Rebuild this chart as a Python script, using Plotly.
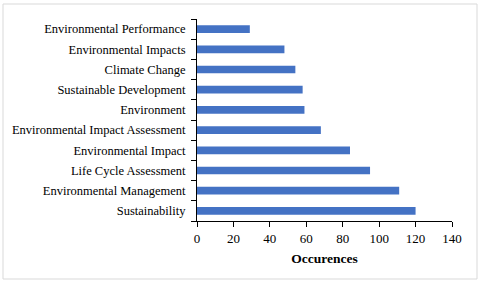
import plotly.graph_objects as go

categories = ["Sustainability", "Environmental Management", "Life Cycle Assessment",
              "Environmental Impact", "Environmental Impact Assessment", "Environment",
              "Sustainable Development", "Climate Change", "Environmental Impacts",
              "Environmental Performance"]
occurrences = [120, 111, 95, 84, 68, 59, 58, 54, 48, 29]
x_ticks = [0, 20, 40, 60, 80, 100, 120, 140]

L, R, T, B = 197, 28, 19, 61
W, H = 480, 282
pw, ph = W - L - R, H - T - B

fig = go.Figure(go.Bar(
    x=occurrences, y=categories, orientation="h",
    marker=dict(color="#4472C4", line=dict(width=0)), width=0.38,
))

fig.update_layout(
    width=W, height=H, margin=dict(l=L, r=R, t=T, b=B),
    paper_bgcolor="white", plot_bgcolor="white",
    font=dict(family="Liberation Serif", size=12.5, color="black"),
    showlegend=False,
    xaxis=dict(range=[0, 140], tickvals=x_ticks, showgrid=False, zeroline=False,
               showline=True, linecolor="black", linewidth=1,
               ticks="outside", ticklen=5, tickcolor="black",
               tickfont=dict(size=13),
               title=dict(text="<b>Occurences</b>", font=dict(size=13.5), standoff=8)),
    yaxis=dict(type="category", categoryorder="array", categoryarray=categories,
               showgrid=False, zeroline=False, showline=True, linecolor="black",
               linewidth=1, ticks="outside", ticklen=5, tickcolor="black",
               tickson="boundaries", ticklabelstandoff=8),
    shapes=[dict(type="rect", xref="paper", yref="paper",
                 x0=(3 - L) / pw, x1=(477 - L) / pw,
                 y0=(H - B - 279) / ph, y1=(H - B - 4) / ph,
                 line=dict(color="#d9d9d9", width=1), layer="below")],
)

fig.write_html("out.html", config={"displayModeBar": False},
               post_script="document.body.style.margin='0';document.body.style.overflow='hidden';")
